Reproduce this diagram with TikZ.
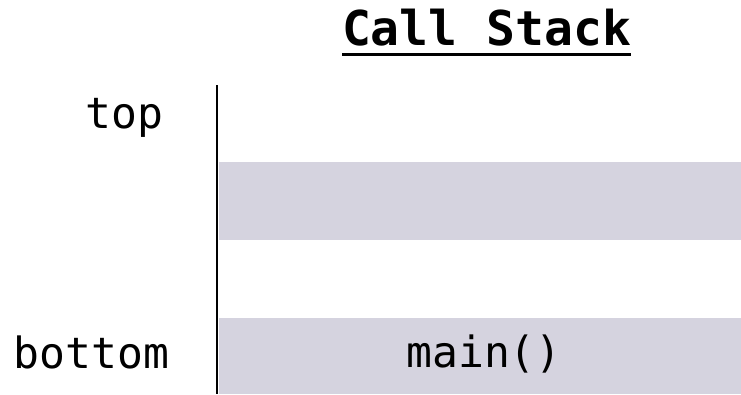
\documentclass[tikz,border=0pt]{standalone}
\usepackage{fontspec}
\setmonofont{DejaVu Sans Mono}
\definecolor{framegray}{RGB}{213,211,223}
\tikzset{
  frame/.style={fill=framegray, draw=none, inner sep=0pt, outer sep=0pt},
  lbl/.style={font=\ttfamily\fontsize{43}{43}\selectfont, inner sep=0pt, outer sep=0pt},
  ttl/.style={font=\ttfamily\bfseries\fontsize{48}{48}\selectfont, inner sep=0pt, outer sep=0pt},
  axis/.style={line width=2.5pt, line cap=butt}
}
\begin{document}
\begin{tikzpicture}[x=1pt,y=-1pt]
\useasboundingbox (0,0) rectangle (741,394);
% frames
\node[frame, minimum width=522pt, minimum height=78pt] (frameA) at (480,201) {};
\node[frame, minimum width=522pt, minimum height=76pt] (frameB) at (480,356) {};
% axis
\coordinate (axtop) at (217,85);
\coordinate (axbot) at (217,394);
\draw[axis] (axtop) -- (axbot);
% title
\node[ttl, anchor=base] (title) at (486.5,45) {Call Stack};
\draw[line width=3.5pt] ([yshift=-9.5pt]title.base west) -- ([yshift=-9.5pt]title.base east);
% labels
\node[lbl, anchor=base east] (toplbl) at (163,128) {top};
\node[lbl, anchor=base east] (botlbl) at (169,368) {bottom};
\node[lbl, anchor=base] (mainlbl) at (484,367) {main()};
\end{tikzpicture}
\end{document}
